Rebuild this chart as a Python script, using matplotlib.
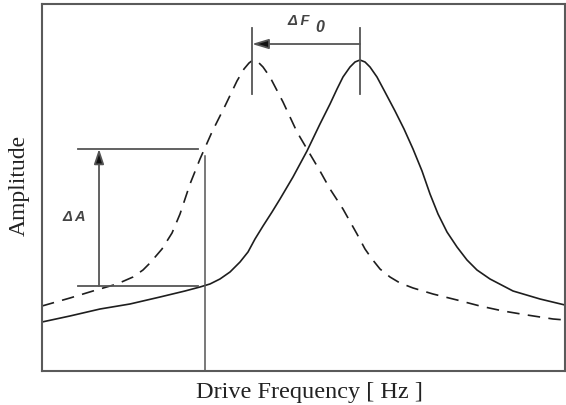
import matplotlib
matplotlib.use("Agg")
import matplotlib.pyplot as plt

plt.rcParams["font.family"] = ["Liberation Serif", "DejaVu Serif"]
plt.rcParams["lines.scale_dashes"] = False

# Resonance curves (frequency 0..100, amplitude 0..100)
solid_f = [0, 5.35, 11.09, 16.83, 22.56, 27.34, 30.21, 32.12, 34.03, 35.95,
           37.86, 39.39, 40.73, 42.26, 43.98, 45.51, 47.99, 50.67, 53.15, 55.07,
           56.41, 57.55, 58.89, 59.85, 60.80, 61.76, 62.72, 64.05, 65.58, 67.50,
           69.22, 70.94, 72.66, 74.19, 75.72, 77.44, 79.35, 81.26, 83.17, 85.66,
           90.06, 95.22, 100]
solid_a = [13.35, 14.99, 16.89, 18.26, 20.16, 21.80, 22.89, 23.71, 25.07, 26.98,
           29.70, 32.43, 35.97, 39.51, 43.32, 46.87, 52.86, 59.95, 67.30, 72.75,
           76.84, 80.11, 82.83, 84.20, 84.74, 84.20, 82.83, 80.11, 76.02, 70.84,
           65.94, 60.49, 54.50, 48.23, 42.78, 37.87, 33.79, 30.25, 27.52, 25.07,
           21.80, 19.62, 17.98]

dash_f = [0, 5.35, 9.75, 14.34, 17.40, 19.31, 20.65, 22.94, 24.86, 26.39,
          28.30, 30.21, 32.50, 34.99, 37.28, 38.62, 39.58, 40.34, 41.30, 42.26,
          43.59, 46.08, 48.76, 50.67, 53.15, 55.07, 57.55, 60.23, 61.76, 63.10,
          64.63, 66.54, 68.45, 70.94, 74.76, 79.35, 83.75, 88.15, 92.73, 97.71,
          100]
dash_a = [17.71, 19.89, 21.80, 23.71, 25.61, 27.52, 29.43, 33.24, 37.60, 42.78,
          50.95, 57.77, 65.12, 72.21, 79.02, 82.29, 83.92, 84.74, 84.20, 82.83,
          80.11, 73.30, 65.12, 60.49, 54.50, 49.59, 44.14, 37.33, 33.24, 30.52,
          27.79, 25.61, 23.98, 22.62, 20.98, 19.35, 17.71, 16.35, 15.26, 14.17,
          13.90]

# annotation levels
f_probe = 31.17          # drive frequency of the vertical line
a_probe_top = 58.58
a_high, a_low = 60.49, 23.16
da_left, da_right = 6.88, 29.8
da_arrow_f = 10.90
f_peak_shift, f_peak = 40.15, 60.80
tick_lo, tick_hi = 75.48, 93.46
df_arrow_a = 89.10

fig = plt.figure(figsize=(5.66, 4.06), dpi=100)
ax = fig.add_axes([42 / 566, 34 / 406, 523 / 566, 367 / 406])
ax.set_xlim(0, 100)
ax.set_ylim(0, 100)
ax.set_xticks([])
ax.set_yticks([])
for s in ax.spines.values():
    s.set_color("#5a5a5a")
    s.set_linewidth(1.5)

curve_col = "#1e1e1e"
ann_col = "#555555"

ax.plot(solid_f, solid_a, color=curve_col, lw=1.2, solid_joinstyle="round")
ax.plot(dash_f, dash_a, color=curve_col, lw=1.2, dashes=(9, 6))

# delta A
ax.plot([f_probe, f_probe], [0, a_probe_top], color=ann_col, lw=1.1)
ax.plot([da_left, da_right], [a_high, a_high], color=ann_col, lw=1.3)
ax.plot([da_left, da_right], [a_low, a_low], color=ann_col, lw=1.3)
ax.annotate("", xy=(da_arrow_f, a_high), xytext=(da_arrow_f, a_low),
            arrowprops=dict(arrowstyle="-|>,head_length=0.9,head_width=0.3",
                            color=ann_col, lw=1.3, shrinkA=0, shrinkB=0,
                            fc="#111111"))
lab = dict(family=["Liberation Sans", "DejaVu Sans"], style="italic",
           weight="bold", color="#444444", ha="left", va="center")
ax.text(4.0, 42.2, "Δ A", fontsize=10.5, **lab)

# delta F0
for f in (f_peak_shift, f_peak):
    ax.plot([f, f], [tick_lo, tick_hi], color=ann_col, lw=1.3)
ax.annotate("", xy=(f_peak_shift, df_arrow_a), xytext=(f_peak, df_arrow_a),
            arrowprops=dict(arrowstyle="-|>,head_length=1.0,head_width=0.3",
                            color=ann_col, lw=1.3, shrinkA=0, shrinkB=0,
                            fc="#111111"))
ax.text(47.0, 95.6, "Δ F", fontsize=10.5, **lab)
ax.text(52.3, 93.8, "0", fontsize=11.5, **lab)

fig.text(309 / 566, 8 / 406, "Drive Frequency [ Hz ]", fontsize=17.5,
         ha="center", va="baseline", color="#222222")
fig.text(19 / 566, 1 - 185 / 406, "Amplitude", fontsize=17, rotation=90,
         ha="center", va="center", color="#222222")

fig.savefig("out.png", dpi=100)
